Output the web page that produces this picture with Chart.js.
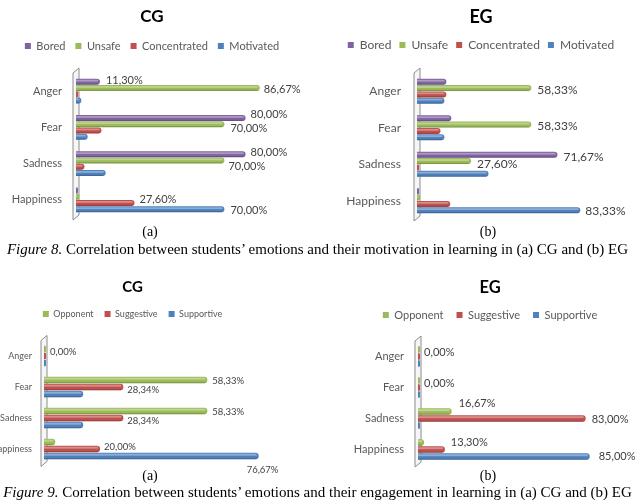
<!DOCTYPE html>
<html>
<head>
<meta charset="utf-8">
<script src="https://cdn.jsdelivr.net/npm/chart.js@4.4.1/dist/chart.umd.min.js"></script>
<style>
body { margin: 0; width: 635px; height: 504px; background: #fff; position: relative; overflow: hidden; font-family: 'Liberation Serif', 'Times New Roman', serif; }
canvas { position: absolute; }
.sub { position: absolute; width: 40px; text-align: center; font-size: 14px; color: #000; }
.cap { position: absolute; left: 0; width: 635px; text-align: center; font-size: 15px; color: #000; white-space: nowrap; }
</style>
</head>
<body>
<canvas id="c1" width="304" style="left:0;top:0"></canvas>
<canvas id="c2" width="326" style="left:318px;top:0"></canvas>
<canvas id="c3" width="309" style="left:-22px;top:262px"></canvas>
<canvas id="c4" width="344" style="left:318px;top:262px"></canvas>

<div class="sub" style="left:130px;top:224px">(a)</div>
<div class="sub" style="left:468px;top:224px">(b)</div>
<div class="cap" style="top:241px"><i>Figure 8.</i> Correlation between students’ emotions and their motivation in learning in (a) CG and (b) EG</div>
<div class="sub" style="left:130px;top:468px">(a)</div>
<div class="sub" style="left:468px;top:468px">(b)</div>
<div class="cap" style="top:484px"><i>Figure 9.</i> Correlation between students’ emotions and their engagement in learning in (a) CG and (b) EG</div>

<script>
// categorias y series
const emotions = ['Anger', 'Fear', 'Sadness', 'Happiness'];
const motivationSeries = ['Bored', 'Unsafe', 'Concentrated', 'Motivated'];
const engagementSeries = ['Opponent', 'Suggestive', 'Supportive'];

// Figura 8 (a) CG
const cgBored = [11.3, 80, 80, 0];
const cgUnsafe = [86.67, 70, 70, 1.5];
const cgConcentrated = [1, 12, 4, 27.6];
const cgMotivated = [2.5, 5.5, 14, 70];

// Figura 8 (b) EG
const egBored = [15, 17.5, 71.67, 0];
const egUnsafe = [58.33, 58.33, 27.6, 1.5];
const egConcentrated = [15, 12, 1, 17];
const egMotivated = [14, 14, 36.5, 83.33];

// Figura 9 (a) CG
const cgOpponent = [0, 58.33, 58.33, 4];
const cgSuggestive = [0, 28.34, 28.34, 20];
const cgSupportive = [0, 14, 14, 76.67];

// Figura 9 (b) EG
const egOpponent = [0, 0, 16.67, 3];
const egSuggestive = [0, 0, 83, 13.3];
const egSupportive = [0, 0, 0, 85];

const PURPLE = '#8064A2', GREEN = '#9BBB59', RED = '#C0504D', BLUE = '#4F81BD';
const TXT = '#595959';

// pared 3D a la izquierda del area
const wallPlugin = {
    id: 'wall',
    beforeDatasetsDraw(chart) {
        const { ctx, chartArea: a } = chart;
        ctx.save();
        ctx.beginPath();
        ctx.moveTo(a.left - 3, a.top);
        ctx.lineTo(a.left + 3, a.top - 5);
        ctx.lineTo(a.left + 3, a.bottom - 3);
        ctx.lineTo(a.left - 3, a.bottom + 2);
        ctx.closePath();
        ctx.fillStyle = '#f6f6f6';
        ctx.fill();
        ctx.strokeStyle = '#8c8c8c';
        ctx.lineWidth = 1;
        ctx.stroke();
        ctx.restore();
    }
};

// brillo de las barras + etiquetas
const barExtras = {
    id: 'barExtras',
    afterDatasetsDraw(chart, args, opts) {
        const { ctx } = chart;
        ctx.save();
        chart.getSortedVisibleDatasetMetas().forEach(meta => {
            meta.data.forEach(el => {
                const p = el.getProps(['x', 'y', 'base', 'height'], true);
                const top = p.y - p.height / 2;
                const len = p.x - p.base - 2;
                if (len <= 0) return;
                ctx.fillStyle = 'rgba(255,255,255,0.35)';
                ctx.fillRect(p.base, top + 1, len, Math.max(1, p.height * 0.3));
                ctx.fillStyle = 'rgba(0,0,0,0.18)';
                ctx.fillRect(p.base, top + p.height - 1.2, len, 1.2);
            });
        });
        ctx.fillStyle = '#404040';
        ctx.font = opts.font;
        ctx.textAlign = 'left';
        ctx.textBaseline = 'middle';
        (opts.items || []).forEach(([d, i, dx, dy]) => {
            const el = chart.getDatasetMeta(d).data[i];
            const v = chart.data.datasets[d].data[i];
            const txt = v.toFixed(2).replace('.', ',') + '%';
            ctx.fillText(txt, el.x + dx, el.y + dy);
        });
        ctx.restore();
    }
};

function crearGrafico(id, cfg) {
    // cfg.lay: posiciones deseadas (locales al canvas)
    const L = cfg.lay;
    const cv = document.getElementById(id);
    // el eje y pide margen abajo (media etiqueta + padding), asi que el canvas baja un poco mas
    cv.height = Math.ceil(L.areaBottom + L.tickPad + L.catSize * 0.6) + 2;
    const H = cv.height, W = cv.width;
    const a = L.titleY - L.titleSize / 2;
    const legendTop = L.legendY - L.legendPad - L.legendSize / 2;
    const b = legendTop - a - L.titleSize;
    const legendBottom = legendTop + L.legendSize + L.legendPad + 10;
    const xAxisH = L.areaTop - legendBottom;
    const max = (W - L.axisLeft) / L.pxPerUnit;

    return new Chart(cv, {
        type: 'bar',
        data: {
            labels: emotions,
            datasets: cfg.series.map((name, k) => ({
                label: name,
                data: cfg.values[k],
                backgroundColor: cfg.colors[k],
                borderWidth: 0,
                borderRadius: 3,
                borderSkipped: 'start',
                minBarLength: 2,
                categoryPercentage: cfg.catPct,
                barPercentage: 0.95
            }))
        },
        options: {
            indexAxis: 'y',
            responsive: false,
            animation: false,
            layout: { autoPadding: false, padding: { left: 0, right: 0, top: 0, bottom: H - L.areaBottom } },
            scales: {
                x: {
                    position: 'top', min: 0, max: max,
                    ticks: { display: false }, grid: { display: false, drawTicks: false }, border: { display: false },
                    afterFit: s => { s.height = xAxisH; }
                },
                y: {
                    grid: { display: false, drawTicks: false }, border: { display: false },
                    ticks: { color: TXT, padding: L.tickPad, font: { family: 'Lato', size: L.catSize } },
                    afterFit: s => { s.width = L.axisLeft; }
                }
            },
            plugins: {
                title: {
                    display: true, text: cfg.title, color: '#000',
                    font: { family: 'Lato', size: L.titleSize, weight: 'bold', lineHeight: 1 },
                    padding: { top: a, bottom: b }
                },
                legend: {
                    labels: {
                        color: TXT, boxWidth: 6, boxHeight: 6, padding: L.legendPad,
                        font: { family: 'Lato', size: L.legendSize }
                    }
                },
                tooltip: { enabled: false },
                barExtras: { font: cfg.labelFont, items: cfg.labels }
            }
        },
        plugins: [wallPlugin, barExtras]
    });
}

crearGrafico('c1', {
    title: 'CG', series: motivationSeries,
    values: [cgBored, cgUnsafe, cgConcentrated, cgMotivated],
    colors: [PURPLE, GREEN, RED, BLUE], catPct: 0.69,
    lay: { titleY: 17, titleSize: 17, legendY: 46, legendSize: 11, legendPad: 10,
           areaTop: 73, areaBottom: 218, axisLeft: 76, pxPerUnit: 2.12, tickPad: 14, catSize: 11 },
    labelFont: '11px Lato',
    labels: [[0, 0, 6, -1], [1, 0, 4, 1], [0, 1, 5, -4], [1, 1, 6, 4], [0, 2, 5, -2], [1, 2, 4, 6], [2, 3, 5, -4], [3, 3, 6, 1]]
});

crearGrafico('c2', {
    title: 'EG', series: motivationSeries,
    values: [egBored, egUnsafe, egConcentrated, egMotivated],
    colors: [PURPLE, GREEN, RED, BLUE], catPct: 0.69,
    lay: { titleY: 17, titleSize: 18, legendY: 45, legendSize: 12, legendPad: 8,
           areaTop: 73, areaBottom: 219, axisLeft: 99, pxPerUnit: 1.96, tickPad: 16, catSize: 12 },
    labelFont: '12px Lato',
    labels: [[1, 0, 6, 2], [1, 1, 6, 2], [0, 2, 6, 2], [1, 2, 6, 3], [3, 3, 5, 1]]
});

crearGrafico('c3', {
    title: 'CG', series: engagementSeries,
    values: [cgOpponent, cgSuggestive, cgSupportive],
    colors: [GREEN, RED, BLUE], catPct: 0.68,
    lay: { titleY: 25, titleSize: 15, legendY: 52, legendSize: 9, legendPad: 11,
           areaTop: 78.5, areaBottom: 202.5, axisLeft: 66, pxPerUnit: 2.8, tickPad: 12, catSize: 9 },
    labelFont: '9.5px Lato',
    labels: [[0, 0, 4, 3], [0, 1, 5, 1], [1, 1, 4, 3], [0, 2, 5, 1], [1, 2, 4, 3], [1, 3, 4, -2], [2, 3, -12, 14]]
});

crearGrafico('c4', {
    title: 'EG', series: engagementSeries,
    values: [egOpponent, egSuggestive, egSupportive],
    colors: [GREEN, RED, BLUE], catPct: 0.68,
    lay: { titleY: 26, titleSize: 16.5, legendY: 53, legendSize: 11, legendPad: 13,
           areaTop: 79, areaBottom: 203, axisLeft: 100, pxPerUnit: 2.02, tickPad: 14, catSize: 11 },
    labelFont: '11px Lato',
    labels: [[0, 0, 4, 3], [0, 1, 4, 3], [0, 2, 7, -8], [1, 2, 6, 1], [1, 3, 6, -7], [2, 3, 9, 0]]
});
</script>
</body>
</html>
